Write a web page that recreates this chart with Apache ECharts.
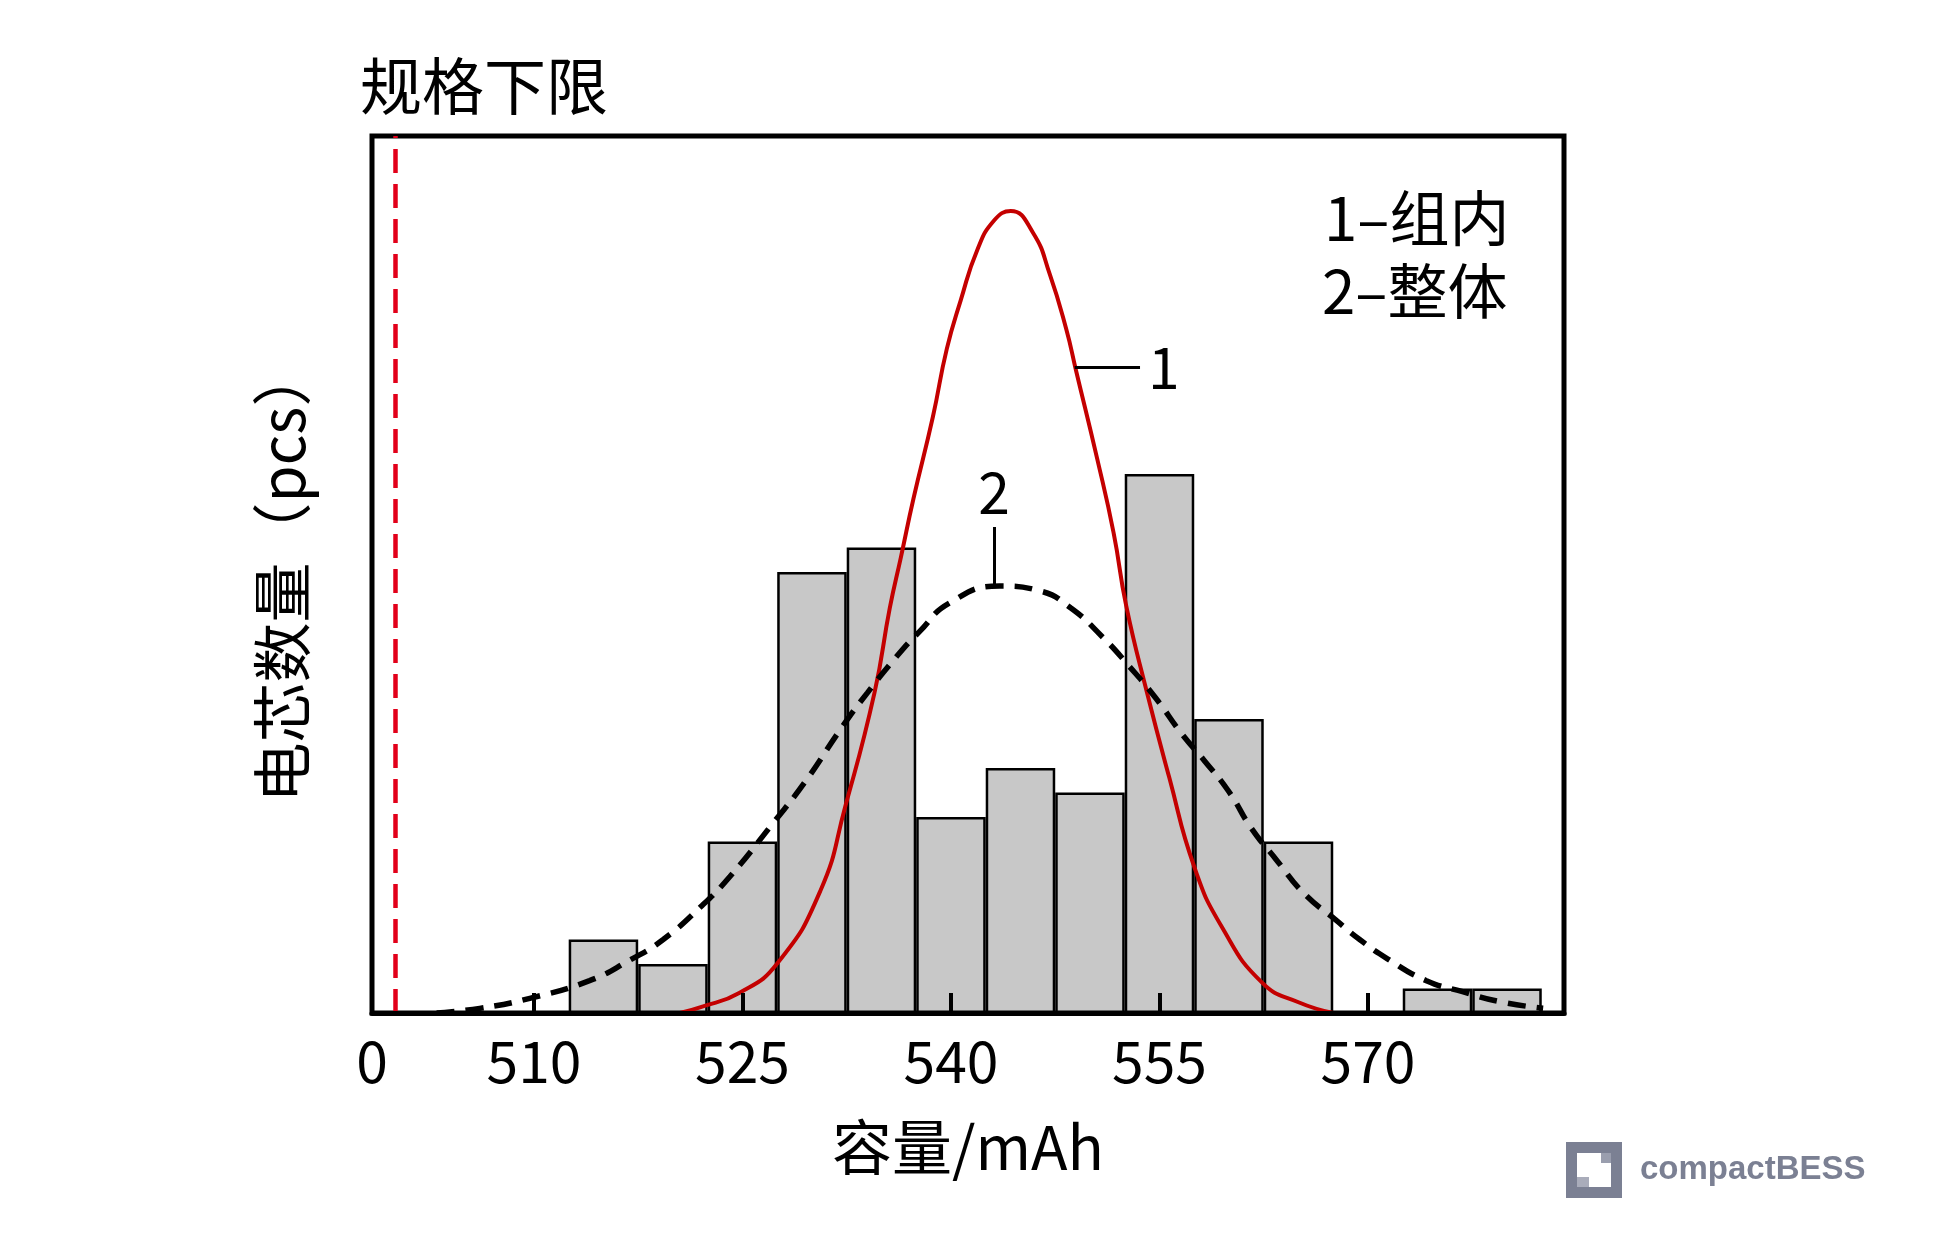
<!DOCTYPE html>
<html>
<head>
<meta charset="utf-8">
<title>电芯容量分布</title>
<script src="https://cdn.jsdelivr.net/npm/echarts@6/dist/echarts.min.js"></script>
<style>
  html, body { margin: 0; padding: 0; background: #fff; }
  #container { width: 1937px; height: 1252px; }
</style>
</head>
<body>
<div id="container"></div>
<script>
// histogram: bin centres (mAh, 5 mAh wide) and cell counts
const binCenters = [515, 520, 525, 530, 535, 540, 545, 550, 555, 560, 565, 570, 575, 580]
const binCounts = [3, 2, 7, 18, 19, 8, 10, 9, 22, 12, 7, 0, 1, 1]

// curve 1 (组内)
const curve1X = [520.5, 522, 524.8, 527.5, 530.6, 532.4, 534.5, 535.6, 536.4, 537.3, 538.7, 539.7, 540.7, 541.9, 543.1, 544.3,
    545.9, 547.1, 548.3, 549.0, 550.5, 551.7, 552.6, 554.1, 555.7, 557.5, 559.5, 562.4, 565, 567.5]
const curve1Y = [0, 0.24, 0.83, 2.02, 4.98, 8.44, 13.08, 16.54, 18.61, 20.99, 24.34, 27.11, 29.09, 31.16, 32.35, 32.74,
    31.85, 30.17, 27.9, 26.22, 22.67, 19.6, 16.64, 13.08, 9.62, 5.97, 3.5, 1.23, 0.44, 0]

// curve 2 (整体)
const curve2X = [503, 506.1, 509.7, 514, 516.9, 519.3, 522.1, 524.1, 527.2, 529.5, 532.2, 534, 536.1, 537.7, 539.9, 543.5,
    546.4, 548.6, 550.9, 552.8, 554.7, 556.6, 558.2, 560, 561.6, 563.4, 565.4, 567.7, 569.4, 571.4, 574.2, 576.8, 579.5, 582.6]
const curve2Y = [0, 0.19, 0.6, 1.32, 2.16, 3.0, 4.39, 5.57, 7.75, 9.43, 11.7, 13.08, 14.56, 15.55, 16.74, 17.43,
    17.23, 16.54, 15.35, 14.17, 12.88, 11.4, 10.32, 9.03, 7.55, 6.26, 4.88, 3.79, 3.0, 2.21, 1.32, 0.87, 0.46, 0.19]

// x axis is broken: its left end is labelled 0
const xMin = 498.35
const xMax = 584.1
const tickValues = [510, 525, 540, 555, 570]
const labelValues = [xMin, 510, 525, 540, 555, 570]
const labelTexts = ['0', '510', '525', '540', '555', '570']
const specLimit = 500
const yMax = 35.8

const label1At = [[548.9, 26.37], [553.6, 26.37]]
const label2At = [[543.1, 17.5], [543.1, 19.84]]

const zip = (xs, ys) => xs.map((x, i) => [x, ys[i]])
const FONT = '"Noto Sans CJK SC", "Noto Sans", sans-serif'

let options = {
    animation: false,
    backgroundColor: '#fff',
    grid: {
        left: 372,
        top: 136,
        width: 1192,
        height: 877,
        show: true,
        borderColor: '#000',
        borderWidth: 5,
        backgroundColor: 'transparent'
    },
    xAxis: {
        type: 'value',
        min: xMin,
        max: xMax,
        z: 5,
        name: '容量/mAh',
        nameLocation: 'middle',
        nameGap: 104,
        nameTextStyle: {
            color: '#000',
            fontSize: 60,
            fontFamily: FONT
        },
        axisLine: {
            show: true,
            onZero: false,
            lineStyle: { color: '#000', width: 5 }
        },
        axisTick: {
            show: true,
            inside: true,
            length: 20,
            customValues: tickValues,
            lineStyle: { color: '#000', width: 4 }
        },
        axisLabel: {
            customValues: labelValues,
            margin: 20,
            color: '#000',
            fontSize: 57,
            fontFamily: FONT,
            formatter: (v) => {
                const i = labelValues.findIndex(l => Math.abs(l - v) < 0.01)
                return i >= 0 ? labelTexts[i] : ''
            }
        },
        splitLine: { show: false }
    },
    yAxis: {
        type: 'value',
        min: 0,
        max: yMax,
        name: '电芯数量（pcs）',
        nameLocation: 'middle',
        nameGap: 60,
        nameTextStyle: {
            color: '#000',
            fontSize: 60,
            fontFamily: FONT
        },
        axisLine: { show: false },
        axisTick: { show: false },
        axisLabel: { show: false },
        splitLine: { show: false }
    },
    graphic: {
        elements: [
            {
                type: 'text',
                x: 360,
                y: 86,
                style: {
                    text: '规格下限',
                    fontSize: 62,
                    fontFamily: FONT,
                    fill: '#000',
                    verticalAlign: 'middle'
                }
            },
            {
                type: 'text',
                x: 1324,
                y: 218,
                style: {
                    text: '1–组内',
                    fontSize: 60,
                    fontFamily: FONT,
                    fill: '#000',
                    verticalAlign: 'middle'
                }
            },
            {
                type: 'text',
                x: 1322,
                y: 291,
                style: {
                    text: '2–整体',
                    fontSize: 60,
                    fontFamily: FONT,
                    fill: '#000',
                    verticalAlign: 'middle'
                }
            },
            // source logo, bottom right
            {
                type: 'group',
                x: 1566,
                y: 1142,
                children: [
                    { type: 'rect', shape: { x: 0, y: 0, width: 56, height: 56 }, style: { fill: '#7b8093' } },
                    { type: 'rect', shape: { x: 11, y: 11, width: 34, height: 34 }, style: { fill: '#fff' } },
                    { type: 'rect', shape: { x: 35, y: 11, width: 10, height: 10 }, style: { fill: '#9a9eae' } },
                    { type: 'rect', shape: { x: 11, y: 35, width: 12, height: 10 }, style: { fill: '#a9acba' } }
                ]
            },
            {
                type: 'text',
                x: 1640,
                y: 1170,
                style: {
                    text: 'compactBESS',
                    fontSize: 33,
                    fontWeight: 'bold',
                    fontFamily: '"Liberation Sans", Arial, sans-serif',
                    fill: '#7b8093',
                    verticalAlign: 'middle'
                }
            }
        ]
    },
    series: [
        {
            type: 'bar',
            data: zip(binCenters, binCounts),
            barWidth: 69.5,
            itemStyle: {
                color: '#c8c8c8',
                borderColor: '#000',
                borderWidth: 2.5
            },
            markLine: {
                silent: true,
                symbol: ['none', 'none'],
                label: { show: false },
                lineStyle: { color: '#e2001a', width: 4.5, type: [24, 11] },
                data: [{ xAxis: specLimit }]
            }
        },
        {
            type: 'line',
            name: '组内',
            data: zip(curve1X, curve1Y),
            showSymbol: false,
            smooth: 0.5,
            lineStyle: { color: '#c40000', width: 4 },
            markLine: {
                silent: true,
                symbol: ['none', 'none'],
                lineStyle: { color: '#000', width: 3, type: 'solid' },
                label: {
                    show: true,
                    position: 'end',
                    formatter: '1',
                    distance: 8,
                    color: '#000',
                    fontSize: 57,
                    fontFamily: FONT
                },
                data: [[{ coord: label1At[0] }, { coord: label1At[1] }]]
            }
        },
        {
            type: 'line',
            name: '整体',
            data: zip(curve2X, curve2Y),
            showSymbol: false,
            smooth: 0.5,
            lineStyle: { color: '#000', width: 5.5, type: [18, 11] },
            markLine: {
                silent: true,
                symbol: ['none', 'none'],
                lineStyle: { color: '#000', width: 3, type: 'solid' },
                label: {
                    show: true,
                    position: 'end',
                    formatter: '2',
                    distance: 6,
                    color: '#000',
                    fontSize: 57,
                    fontFamily: FONT
                },
                data: [[{ coord: label2At[0] }, { coord: label2At[1] }]]
            }
        }
    ]
}

let mychart = echarts.init(document.getElementById('container'))
mychart.setOption(options)
window.addEventListener('resize', () => { mychart.resize() })
</script>
</body>
</html>
